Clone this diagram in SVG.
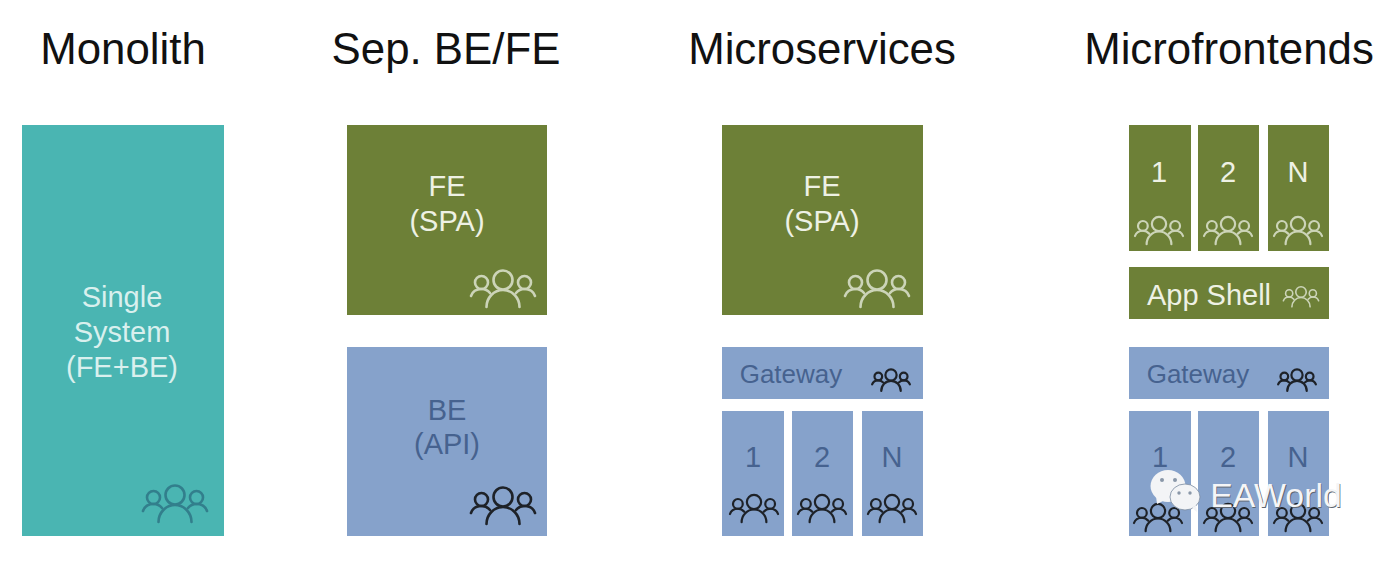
<svg xmlns="http://www.w3.org/2000/svg" width="1394" height="570" viewBox="0 0 1394 570">
<style>
text{font-family:"Liberation Sans",Arial,sans-serif;text-anchor:middle}
.title{font-size:43.800px;fill:#111}
.lbl{font-size:29px}
.teal{fill:#4ab5b2}
.green{fill:#6d8037}
.blue{fill:#86a2cb}
.onteal{fill:#d9f0ee}
.ongreen{fill:#eef1e4}
.onblue{fill:#46628f}
.p{fill:none;stroke-width:2.600;stroke-linecap:round}
.s{stroke-width:2.200}
.pdark{stroke:#1e2228}
.plight{stroke:#ccd4b8}
.pteal{stroke:#327f8c}
#team *{vector-effect:non-scaling-stroke}
</style>
<defs>
<!-- three-person team glyph, centred on the middle head -->
<g id="team">
<circle cx="0" cy="0" r="9.500"/>
<path d="M-16.500 27A16.500 17 0 0 1 16.500 27"/>
<circle cx="-21.500" cy="2.500" r="6.500"/>
<circle cx="21.500" cy="2.500" r="6.500"/>
<path d="M-32 16C-30 10 -25 9 -21.500 9C-18 9 -15 10.500 -13 13"/>
<path d="M32 16C30 10 25 9 21.500 9C18 9 15 10.500 13 13"/>
</g>
</defs>
<rect width="1394" height="570" fill="#fff"/>

<g id="titles">
<text class="title" x="123" y="64">Monolith</text>
<text class="title" x="446" y="64">Sep. BE/FE</text>
<text class="title" x="822" y="64">Microservices</text>
<text class="title" x="1229" y="64">Microfrontends</text>
</g>

<g id="monolith">
<rect class="teal" x="22" y="125" width="202" height="411"/>
<text class="lbl onteal" x="122" y="307">Single</text>
<text class="lbl onteal" x="122" y="342">System</text>
<text class="lbl onteal" x="122" y="377">(FE+BE)</text>
<use href="#team" class="p pteal" transform="translate(175 495)"/>
</g>

<g id="sep-fe">
<rect class="green" x="347" y="125" width="200" height="190"/>
<text class="lbl ongreen" x="447" y="196">FE</text>
<text class="lbl ongreen" x="447" y="231">(SPA)</text>
<use href="#team" class="p plight" transform="translate(503 280)"/>
</g>
<g id="sep-be">
<rect class="blue" x="347" y="347" width="200" height="189"/>
<text class="lbl onblue" x="447" y="420">BE</text>
<text class="lbl onblue" x="447" y="454">(API)</text>
<use href="#team" class="p pdark" transform="translate(503 497)"/>
</g>

<g id="ms-fe">
<rect class="green" x="722" y="125" width="201" height="190"/>
<text class="lbl ongreen" x="822" y="196">FE</text>
<text class="lbl ongreen" x="822" y="231">(SPA)</text>
<use href="#team" class="p plight" transform="translate(877 280)"/>
</g>
<g id="ms-gateway">
<rect class="blue" x="722" y="347" width="201" height="52"/>
<text class="lbl onblue" x="791" y="383" style="font-size:26px">Gateway</text>
<use href="#team" class="p s pdark" transform="translate(891 375) scale(.59)"/>
</g>
<g id="ms-1">
<rect class="blue" x="722" y="411" width="62" height="125"/>
<text class="lbl onblue" x="753" y="467">1</text>
<use href="#team" class="p s pdark" transform="translate(754 502) scale(.75)"/>
</g>
<g id="ms-2">
<rect class="blue" x="792" y="411" width="61" height="125"/>
<text class="lbl onblue" x="822" y="467">2</text>
<use href="#team" class="p s pdark" transform="translate(822 502) scale(.75)"/>
</g>
<g id="ms-n">
<rect class="blue" x="862" y="411" width="61" height="125"/>
<text class="lbl onblue" x="892" y="467">N</text>
<use href="#team" class="p s pdark" transform="translate(892 502) scale(.75)"/>
</g>

<g id="mf-1">
<rect class="green" x="1129" y="125" width="62" height="126"/>
<text class="lbl ongreen" x="1159" y="182">1</text>
<use href="#team" class="p s plight" transform="translate(1159 224) scale(.75)"/>
</g>
<g id="mf-2">
<rect class="green" x="1198" y="125" width="61" height="126"/>
<text class="lbl ongreen" x="1228" y="182">2</text>
<use href="#team" class="p s plight" transform="translate(1228 224) scale(.75)"/>
</g>
<g id="mf-n">
<rect class="green" x="1268" y="125" width="61" height="126"/>
<text class="lbl ongreen" x="1298" y="182">N</text>
<use href="#team" class="p s plight" transform="translate(1298 224) scale(.75)"/>
</g>
<g id="mf-shell">
<rect class="green" x="1129" y="267" width="200" height="52"/>
<text class="lbl ongreen" x="1209" y="305">App Shell</text>
<use href="#team" class="p s plight" transform="translate(1301 292) scale(.55)" style="stroke-width:1.600"/>
</g>
<g id="mf-gateway">
<rect class="blue" x="1129" y="347" width="200" height="52"/>
<text class="lbl onblue" x="1198" y="383" style="font-size:26px">Gateway</text>
<use href="#team" class="p s pdark" transform="translate(1297 375) scale(.59)"/>
</g>
<g id="mf-be-1">
<rect class="blue" x="1129" y="411" width="62" height="125"/>
<text class="lbl onblue" x="1160" y="467">1</text>
<use href="#team" class="p s pdark" transform="translate(1158 511) scale(.75)"/>
</g>
<g id="mf-be-2">
<rect class="blue" x="1198" y="411" width="61" height="125"/>
<text class="lbl onblue" x="1228" y="467">2</text>
<use href="#team" class="p s pdark" transform="translate(1228 511) scale(.75)"/>
</g>
<g id="mf-be-n">
<rect class="blue" x="1268" y="411" width="61" height="125"/>
<text class="lbl onblue" x="1298" y="467">N</text>
<use href="#team" class="p s pdark" transform="translate(1298 511) scale(.75)"/>
</g>

<!-- corner badge: two chat bubbles and the account name -->
<g id="badge">
<ellipse cx="1168" cy="486" rx="17.500" ry="16" fill="#f3f4f6"/>
<path d="M1156 496L1157 504L1165 500Z" fill="#f3f4f6"/>
<ellipse cx="1185" cy="497" rx="15" ry="13" fill="#f3f4f6" stroke="#7a8aa0" stroke-width=".8"/>
<path d="M1192 508L1197 512L1196 505Z" fill="#f3f4f6"/>
<circle cx="1162" cy="480" r="2" fill="#8a97a8"/>
<circle cx="1175" cy="480" r="2" fill="#8a97a8"/>
<circle cx="1179" cy="493" r="1.700" fill="#8a97a8"/>
<circle cx="1190" cy="493" r="1.700" fill="#8a97a8"/>
<text x="1276" y="507" style="font-size:33.800px" fill="#5f6670" transform="translate(.8 .8)">EAWorld</text>
<text x="1276" y="507" style="font-size:33.800px" fill="#f4f5f7">EAWorld</text>
</g>
</svg>
